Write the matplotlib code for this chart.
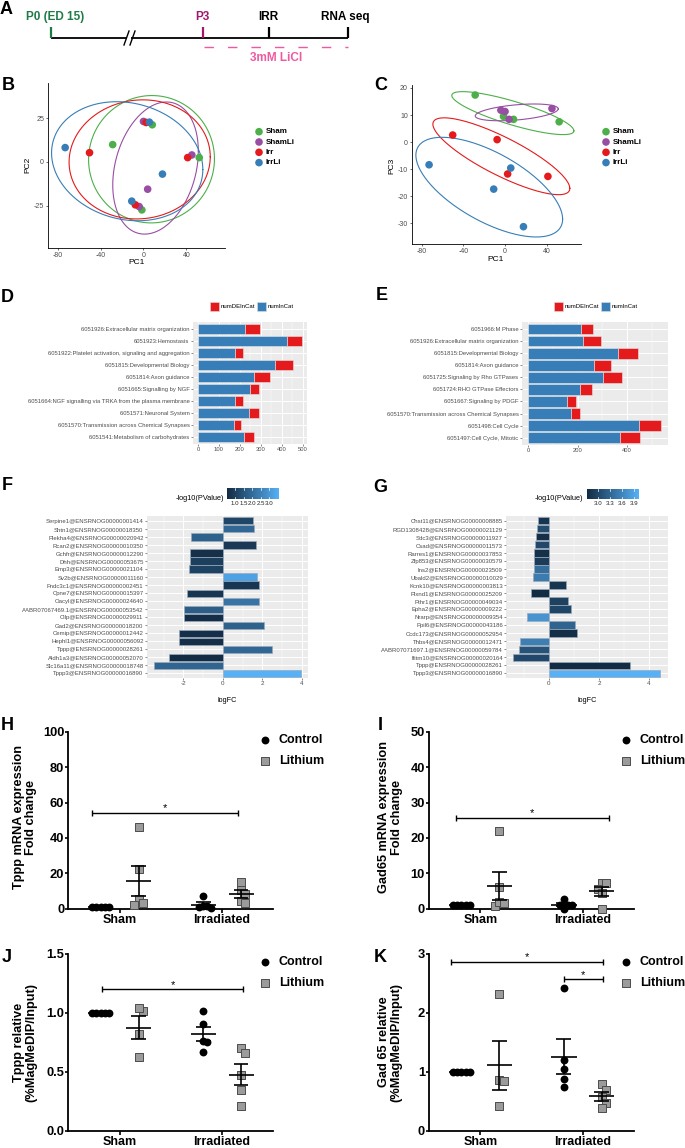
import numpy as np
import matplotlib
matplotlib.use('Agg')
import matplotlib.pyplot as plt
from matplotlib.colors import LinearSegmentedColormap, Normalize
from matplotlib.patches import Rectangle

plt.rcParams['font.family'] = ['Liberation Sans', 'DejaVu Sans']
plt.rcParams['axes.unicode_minus'] = False

# ---------------- DATA ----------------
# Panel A
timeline_events = ["P0 (ED 15)", "P3", "IRR", "RNA seq"]
treatment_label = "3mM LiCl"

# Panels B / C (PCA)
pca_groups = ["Sham", "ShamLi", "Irr", "IrrLi"]
pca_colors = ["#4DAF4A", "#984EA3", "#E41A1C", "#377EB8"]
sham_pc1 = [-28.7, 8.2, 52.0, -1.5]
sham_pc2 = [9.9, 21.2, 2.5, -27.3]
sham_pc3 = [17.4, 8.4, 7.5, 9.5]
shamli_pc1 = [0.0, 45.1, 3.9, -4.0]
shamli_pc2 = [23.1, 4.0, -15.5, -25.4]
shamli_pc3 = [11.3, 12.4, 8.4, 11.8]
irr_pc1 = [-50.3, 2.5, 41.2, -7.6]
irr_pc2 = [5.3, 22.5, 2.5, -24.4]
irr_pc3 = [2.6, -11.8, -12.7, 0.9]
irrli_pc1 = [-73.0, 5.5, 17.7, -10.9]
irrli_pc2 = [8.2, 22.7, -6.9, -22.3]
irrli_pc3 = [-8.4, -9.6, -31.3, -17.4]

# Panel D
d_terms = ["6051926:Extracellular matrix organization", "6051923:Hemostasis",
           "6051922:Platelet activation, signaling and aggregation", "6051815:Developmental Biology",
           "6051814:Axon guidance", "6051665:Signalling by NGF",
           "6051664:NGF signalling via TRKA from the plasma membrane", "6051571:Neuronal System",
           "6051570:Transmission across Chemical Synapses", "6051541:Metabolism of carbohydrates"]
d_numincat = [224, 424, 178, 366, 267, 248, 178, 244, 170, 219]
d_numde = [74, 73, 38, 87, 75, 44, 35, 46, 37, 48]

# Panel E
e_terms = ["6051966:M Phase", "6051926:Extracellular matrix organization", "6051815:Developmental Biology",
           "6051814:Axon guidance", "6051725:Signaling by Rho GTPases", "6051724:RHO GTPase Effectors",
           "6051667:Signaling by PDGF", "6051570:Transmission across Chemical Synapses",
           "6051498:Cell Cycle", "6051497:Cell Cycle, Mitotic"]
e_numincat = [212, 221, 364, 266, 303, 208, 156, 172, 447, 373]
e_numde = [52, 72, 82, 71, 76, 51, 37, 36, 91, 79]

# Panel F
f_genes = ["Serpine1@ENSRNOG00000001414", "Shtn1@ENSRNOG00000018350", "Plekha4@ENSRNOG00000020942",
           "Rcan2@ENSRNOG00000010350", "Gchfr@ENSRNOG00000012290", "Dhh@ENSRNOG00000053675",
           "Emp3@ENSRNOG00000021104", "Sv2b@ENSRNOG00000011160", "Fndc3c1@ENSRNOG00000002451",
           "Cpne7@ENSRNOG00000015397", "Oacyl@ENSRNOG00000024640", "AABR07067469.1@ENSRNOG00000053542",
           "Cilp@ENSRNOG00000029911", "Gad2@ENSRNOG00000018200", "Cemip@ENSRNOG00000012442",
           "Hephl1@ENSRNOG00000056092", "Tppp@ENSRNOG00000028261", "Aldh1a3@ENSRNOG00000052070",
           "Slc16a11@ENSRNOG00000018748", "Tppp3@ENSRNOG00000016890"]
f_logfc = [1.52, 1.57, -1.61, 1.66, -1.66, -1.69, -1.72, 1.74, 1.82, -1.82,
           1.84, -1.96, -1.97, 2.09, -2.22, -2.24, 2.47, -2.74, -3.49, 3.96]
f_mlog10p = [1.12, 1.87, 1.72, 0.82, 0.64, 0.97, 1.03, 3.16, 0.76, 0.76,
             2.17, 1.66, 0.58, 1.72, 0.61, 0.61, 1.87, 0.52, 1.81, 3.52]
f_cbar_ticks = [1.0, 1.5, 2.0, 2.5, 3.0]

# Panel G
g_genes = ["Chst11@ENSRNOG00000008885", "RGD1308428@ENSRNOG00000021129", "Sdc3@ENSRNOG00000011927",
           "Csad@ENSRNOG00000011573", "Rarres1@ENSRNOG00000037853", "Zfp853@ENSRNOG00000030579",
           "Ins2@ENSRNOG00000023509", "Ubald2@ENSRNOG00000010029", "Kcnk10@ENSRNOG00000003813",
           "Plxnd1@ENSRNOG00000025209", "Pthr1@ENSRNOG00000049034", "Epha2@ENSRNOG00000009222",
           "Nrarp@ENSRNOG00000009354", "Ppil6@ENSRNOG00000043186", "Ccdc173@ENSRNOG00000052954",
           "Thbs4@ENSRNOG00000012471", "AABR07071697.1@ENSRNOG00000059784", "Ifitm10@ENSRNOG00000020164",
           "Tppp@ENSRNOG00000028261", "Tppp3@ENSRNOG00000016890"]
g_logfc = [-0.45, -0.46, -0.53, -0.57, -0.59, -0.59, -0.59, -0.63, 0.68, -0.70,
           0.78, 0.87, -0.88, 1.04, 1.12, -1.17, -1.18, -1.42, 3.24, 4.45]
g_mlog10p = [2.81, 3.03, 2.75, 2.99, 2.76, 2.88, 3.36, 3.48, 2.81, 2.71,
             2.92, 2.97, 3.72, 3.26, 2.74, 3.51, 3.10, 2.99, 2.71, 4.00]
g_cbar_ticks = [3.0, 3.3, 3.6, 3.9]

# Panels H-K
conditions = ["Sham", "Irradiated"]
treatments = ["Control", "Lithium"]
h_sham_ctrl = [1.0, 1.0, 1.0, 1.0, 1.0]
h_sham_li = [46.3, 22.4, 5.3, 2.1, 3.0]
h_irr_ctrl = [0.4, 7.3, 1.3, 1.6, 1.2]
h_irr_li = [15.3, 10.5, 8.5, 4.3, 3.0]
i_sham_ctrl = [1.0, 1.0, 1.0, 1.0, 1.0]
i_sham_li = [22.0, 6.0, 0.75, 2.0, 1.7]
i_irr_ctrl = [2.8, 0.0, 1.0, 1.0, 1.0]
i_irr_li = [7.2, 7.2, 5.6, 4.5, 0.0]
j_sham_ctrl = [1.0, 1.0, 1.0, 1.0, 1.0]
j_sham_li = [1.016, 1.04, 0.818, 0.628]
j_irr_ctrl = [1.019, 0.903, 0.764, 0.756, 0.665]
j_irr_li = [0.70, 0.66, 0.47, 0.345, 0.21]
k_sham_ctrl = [1.0, 1.0, 1.0, 1.0, 1.0]
k_sham_li = [2.32, 0.86, 0.843, 0.419]
k_irr_ctrl = [2.417, 1.2, 1.047, 0.883, 0.736]
k_irr_li = [0.792, 0.69, 0.577, 0.475, 0.379]

# ---------------- FIGURE ----------------
W, H = 685, 1148
fig = plt.figure(figsize=(W / 100, H / 100), dpi=100)
fig.patch.set_facecolor('white')


def px_axes(x0, y0, x1, y1, **kw):
    return fig.add_axes([x0 / W, 1 - y1 / H, (x1 - x0) / W, (y1 - y0) / H], **kw)


ov = fig.add_axes([0, 0, 1, 1], zorder=50)
ov.set_xlim(0, W)
ov.set_ylim(H, 0)
ov.axis('off')


def T(x, y, s, **kw):
    kw.setdefault('ha', 'center')
    kw.setdefault('va', 'center')
    ov.text(x, y, s, **kw)


# panel letters
for lab, (lx, ly) in zip("ABCDEFGHIJK", [(6, 10), (8, 86), (381, 85), (7.5, 297), (381.5, 296),
                                         (7, 485), (380, 487), (7.5, 725), (380, 725), (7, 958), (380, 957)]):
    T(lx, ly, lab, fontsize=13, fontweight='bold')

# ---------------- Panel A ----------------
tl_y = 38
ev_x = [51, 203, 269, 348]
ev_col = ['#1E7B45', '#A1186C', 'black', 'black']
ev_tx = [55.5, 202.5, 268.5, 345]
ov.plot([ev_x[0], 127.5], [tl_y, tl_y], color='black', lw=1.3, solid_capstyle='butt')
ov.plot([131.5, ev_x[-1]], [tl_y, tl_y], color='black', lw=1.3, solid_capstyle='butt')
for bx in (126.5, 132.5):
    ov.plot([bx - 2.5, bx + 2.5], [tl_y + 7, tl_y - 7], color='black', lw=1.0)
for x, c, tx, s in zip(ev_x, ev_col, ev_tx, timeline_events):
    ov.plot([x, x], [tl_y, 27], color=c, lw=1.6, solid_capstyle='butt')
    T(tx, 17, s, color=c, fontsize=8.5, fontweight='bold')
ov.plot([204, 348], [47, 47], color='#EE5A9F', lw=1.0, dashes=(6.8, 10.1))
T(276, 58, treatment_label, color='#EE5A9F', fontsize=8.5, fontweight='bold')

# ---------------- Panels B / C ----------------
ELL_K = 1.75
pc1_all = [sham_pc1, shamli_pc1, irr_pc1, irrli_pc1]
pc2_all = [sham_pc2, shamli_pc2, irr_pc2, irrli_pc2]
pc3_all = [sham_pc3, shamli_pc3, irr_pc3, irrli_pc3]


def pca_panel(box, xs_all, ys_all, xlim, ylim, xticks, yticks):
    ax = px_axes(*box)
    t = np.linspace(0, 2 * np.pi, 240)
    circ = np.vstack([np.cos(t), np.sin(t)])
    for xs, ys, col in zip(xs_all, ys_all, pca_colors):
        x = np.asarray(xs, float)
        y = np.asarray(ys, float)
        mu = np.array([x.mean(), y.mean()])
        L = np.linalg.cholesky(np.cov(x, y))
        e = mu[:, None] + ELL_K * (L @ circ)
        ax.plot(e[0], e[1], color=col, lw=0.8, zorder=2)
    for xs, ys, col in zip(xs_all, ys_all, pca_colors):
        ax.scatter(xs, ys, s=30, color=col, edgecolors='none', zorder=3)
    ax.set_xlim(*xlim)
    ax.set_ylim(*ylim)
    ax.set_xticks(xticks)
    ax.set_yticks(yticks)
    for sp in ('top', 'right'):
        ax.spines[sp].set_visible(False)
    for sp in ('left', 'bottom'):
        ax.spines[sp].set_linewidth(0.6)
    ax.tick_params(direction='out', length=1.6, width=0.5, color='#333333',
                   labelsize=5, labelcolor='#4D4D4D', pad=1.2)
    return ax


pca_panel((48, 83, 225, 248), pc1_all, pc2_all, (-89, 76), (-49, 45), [-80, -40, 0, 40], [-25, 0, 25])
T(136.5, 262.5, "PC1", fontsize=6)
T(28, 165, "PC2", fontsize=6, rotation=90)
pca_panel((411.7, 85, 581, 244), pc1_all, pc3_all, (-89.7, 73), (-37.7, 21.1), [-80, -40, 0, 40],
          [-30, -20, -10, 0, 10, 20])
T(496, 259.5, "PC1", fontsize=6)
T(391.5, 166, "PC3", fontsize=6, rotation=90)

for lx, tx in ((259, 266), (606, 612.5)):
    for i, (g, c) in enumerate(zip(pca_groups, pca_colors)):
        yy = 131.7 + i * 10.3
        ov.scatter([lx], [yy], s=30, color=c, edgecolors='none')
        T(tx, yy, g, ha='left', fontsize=5.8, fontweight='bold')

# ---------------- Panels D / E ----------------
BLUE, RED = '#377EB8', '#E41A1C'


def gg_axes_style(ax):
    for sp in ax.spines.values():
        sp.set_visible(False)
    ax.set_axisbelow(True)
    ax.grid(which='major', color='white', lw=0.7)
    ax.grid(which='minor', axis='x', color='white', lw=0.35)
    ax.tick_params(which='major', direction='out', length=1.5, width=0.4, color='#333333',
                   labelsize=4.2, labelcolor='#4D4D4D', pad=0.8)
    ax.tick_params(which='minor', length=0)


def go_panel(box, terms, nin, nde, xticks, minor):
    ax = px_axes(*box, facecolor='#EBEBEB')
    y = np.arange(len(terms))
    nin = np.asarray(nin, float)
    nde = np.asarray(nde, float)
    ax.barh(y, nin, height=0.9, color=BLUE, edgecolor='#E6E6E6', lw=0.4, zorder=2)
    ax.barh(y, nde, left=nin, height=0.9, color=RED, edgecolor='#E6E6E6', lw=0.4, zorder=2)
    mx = (nin + nde).max()
    ax.set_xlim(-0.05 * mx, 1.05 * mx)
    ax.set_ylim(len(terms) - 0.4, -0.6)
    ax.set_yticks(y)
    ax.set_yticklabels(terms)
    ax.set_xticks(xticks)
    ax.set_xticks(minor, minor=True)
    gg_axes_style(ax)
    return ax


go_panel((192.7, 321.7, 307.3, 444.3), d_terms, d_numincat, d_numde,
         [0, 100, 200, 300, 400, 500], [50, 150, 250, 350, 450])
go_panel((521.7, 321.7, 667.7, 445), e_terms, e_numincat, e_numde, [0, 200, 400], [100, 300, 500])


def go_legend(rx, bx):
    for x, c, s in ((rx, RED, "numDEInCat"), (bx, BLUE, "numInCat")):
        ov.add_patch(Rectangle((x - 4.5, 306.7 - 4.5), 9, 9, facecolor=c, edgecolor='#DDDDDD', lw=0.4))
        T(x + 6.5, 306.7, s, ha='left', fontsize=4.3)


go_legend(214.5, 261.5)
go_legend(558.5, 605.5)

# ---------------- Panels F / G ----------------
gg_cmap = LinearSegmentedColormap.from_list('gg', ['#132B43', '#56B1F7'])


def de_panel(box, genes, lfc, pv, xticks, minor, cbox, cticks, cfmt, title_x):
    ax = px_axes(*box, facecolor='#EBEBEB')
    y = np.arange(len(genes))
    lfc = np.asarray(lfc, float)
    pv = np.asarray(pv, float)
    norm = Normalize(vmin=pv.min(), vmax=pv.max())
    ax.barh(y, lfc, height=0.9, color=gg_cmap(norm(pv)), edgecolor='#9AAABB', lw=0.5, zorder=2)
    span = max(lfc.max(), 0) - min(lfc.min(), 0)
    ax.set_xlim(min(lfc.min(), 0) - 0.05 * span, max(lfc.max(), 0) + 0.05 * span)
    ax.set_ylim(len(genes) - 0.4, -0.6)
    ax.set_yticks(y)
    ax.set_yticklabels(genes)
    ax.set_xticks(xticks)
    ax.set_xticks(minor, minor=True)
    gg_axes_style(ax)
    ax.tick_params(axis='y', labelsize=4.3)
    ax.tick_params(axis='x', labelsize=4.5)
    # colour bar
    cax = px_axes(*cbox)
    grad = np.linspace(norm.vmin, norm.vmax, 256)[None, :]
    cax.imshow(grad, aspect='auto', cmap=gg_cmap, norm=norm,
               extent=(norm.vmin, norm.vmax, 0, 1), origin='lower')
    cax.set_xlim(norm.vmin, norm.vmax)
    cax.set_ylim(0, 1)
    for tk in cticks:
        cax.plot([tk, tk], [0, 0.2], color='white', lw=0.5)
        cax.plot([tk, tk], [0.8, 1], color='white', lw=0.5)
    cax.set_yticks([])
    cax.set_xticks(cticks)
    cax.set_xticklabels([cfmt.format(v) for v in cticks])
    cax.tick_params(length=0, pad=1.2, labelsize=4.4, labelcolor='#222222')
    for sp in cax.spines.values():
        sp.set_visible(False)
    T(title_x, 498.3, "-log10(PValue)", ha='right', fontsize=5.3)
    return ax


de_panel((146.7, 516, 308.3, 678.3), f_genes, f_logfc, f_mlog10p, [-2, 0, 2, 4], [-3, -1, 1, 3],
         (226.7, 488, 278.3, 499), f_cbar_ticks, "{:.1f}", 224)
de_panel((506, 516, 667.7, 678), g_genes, g_logfc, g_mlog10p, [0, 2, 4], [-1, 1, 3],
         (586.7, 489, 638.3, 499), g_cbar_ticks, "{:.1f}", 583)
T(227.5, 700, "logFC", fontsize=5.2)
T(586.8, 700, "logFC", fontsize=5.2)

# ---------------- Panels H-K ----------------
DODGE = 0.185
MEAN_HW = 0.122
CAP_HW = 0.073


def swarm(vals, ppu_y, ppu_x, step_px=4.2, thresh_px=7.0):
    vals = np.asarray(vals, float)
    order = np.argsort(-vals, kind='stable')
    cands = [0]
    for k in range(1, 8):
        cands += [k, -k]
    placed = []
    offs = np.zeros(len(vals))
    for i in order:
        yp = vals[i] * ppu_y
        xp = 0.0
        for c in cands:
            xp = c * step_px
            if all(not (abs(xp - px) < step_px * 0.99 and abs(yp - py) < thresh_px) for px, py in placed):
                break
        placed.append((xp, yp))
        offs[i] = xp / ppu_x
    return offs


def prism_panel(box, groups, ylim, yticks, yfmt, sigs, ylabel, ylab_xy, leg_xy):
    ax = px_axes(*box)
    ax.set_xlim(-0.5, 1.5)
    ax.set_ylim(*ylim)
    ppu_y = (box[3] - box[1]) / (ylim[1] - ylim[0])
    ppu_x = (box[2] - box[0]) / 2.0
    pos = [-DODGE, DODGE, 1 - DODGE, 1 + DODGE]
    for gi, vals in enumerate(groups):
        vals = np.asarray(vals, float)
        xc = pos[gi]
        offs = swarm(vals, ppu_y, ppu_x)
        if gi % 2 == 0:
            ax.scatter(xc + offs, vals, s=32, marker='o', color='black', linewidths=0,
                       zorder=3, clip_on=False)
        else:
            ax.scatter(xc + offs, vals, s=36, marker='s', facecolor='#9B9B9B', edgecolor='#4D4D4D',
                       linewidths=0.7, zorder=3, clip_on=False)
        m = vals.mean()
        sem = vals.std(ddof=1) / np.sqrt(len(vals))
        kw = dict(color='black', lw=1.2, zorder=4, solid_capstyle='butt', clip_on=False)
        ax.plot([xc - MEAN_HW, xc + MEAN_HW], [m, m], **kw)
        if sem > 0:
            ax.plot([xc, xc], [m - sem, m + sem], **kw)
            ax.plot([xc - CAP_HW, xc + CAP_HW], [m + sem, m + sem], **kw)
            ax.plot([xc - CAP_HW, xc + CAP_HW], [m - sem, m - sem], **kw)
    cap = 3.0 / ppu_y
    for x0, x1, yv in sigs:
        kw = dict(color='black', lw=1.0, clip_on=False, solid_capstyle='butt')
        ax.plot([x0, x1], [yv, yv], **kw)
        ax.plot([x0, x0], [yv - cap, yv + cap], **kw)
        ax.plot([x1, x1], [yv - cap, yv + cap], **kw)
        ax.annotate('*', ((x0 + x1) / 2, yv), xytext=(0, 1.2), textcoords='offset points',
                    ha='center', va='baseline', fontsize=8, annotation_clip=False)
    ax.set_yticks(yticks)
    ax.set_yticklabels([yfmt.format(v) for v in yticks], fontweight='bold', fontsize=9.3)
    ax.set_xticks([0, 1])
    ax.set_xticklabels(conditions, fontweight='bold', fontsize=9)
    for sp in ('top', 'right'):
        ax.spines[sp].set_visible(False)
    for sp in ('left', 'bottom'):
        ax.spines[sp].set_linewidth(1.3)
    ax.tick_params(axis='y', direction='out', length=2.4, width=1.2, pad=0.5)
    ax.tick_params(axis='x', direction='out', length=3, width=1.2, pad=0.5)
    T(ylab_xy[0], ylab_xy[1], ylabel, rotation=90, fontsize=9.2, fontweight='bold',
      linespacing=1.05, multialignment='center')
    lx, ly = leg_xy
    ov.scatter([lx], [ly], s=32, marker='o', color='black', linewidths=0)
    ov.scatter([lx], [ly + 21], s=36, marker='s', facecolor='#9B9B9B', edgecolor='#4D4D4D', linewidths=0.7)
    T(lx + 14, ly, treatments[0], ha='left', fontsize=9, fontweight='bold')
    T(lx + 14, ly + 21, treatments[1], ha='left', fontsize=9, fontweight='bold')
    return ax


prism_panel((68.3, 731.7, 273.3, 908.7), [h_sham_ctrl, h_sham_li, h_irr_ctrl, h_irr_li],
            (0, 100), [0, 20, 40, 60, 80, 100], "{:.0f}", [(-0.266, 1.16, 54.0)],
            "Tppp mRNA expression\nFold change", (25, 817), (265, 740))
prism_panel((429, 731.7, 634.3, 908.7), [i_sham_ctrl, i_sham_li, i_irr_ctrl, i_irr_li],
            (0, 50), [0, 10, 20, 30, 40, 50], "{:.0f}", [(-0.237, 1.251, 25.7)],
            "Gad65 mRNA expression\nFold change", (390.5, 817), (626, 740))
prism_panel((68.3, 954, 273.3, 1130.7), [j_sham_ctrl, j_sham_li, j_irr_ctrl, j_irr_li],
            (0, 1.5), [0.0, 0.5, 1.0, 1.5], "{:.1f}", [(-0.168, 1.204, 1.2)],
            "Tppp relative\n(%MagMeDIP/Input)", (25, 1042), (265, 962))
prism_panel((429, 954, 634.3, 1130.7), [k_sham_ctrl, k_sham_li, k_irr_ctrl, k_irr_li],
            (0, 3), [0, 1, 2, 3], "{:.0f}", [(-0.289, 1.195, 2.87), (0.813, 1.195, 2.57)],
            "Gad 65 relative\n(%MagMeDIP/Input)", (390.5, 1042), (626, 962))

fig.savefig('out.png', dpi=100, facecolor='white')
